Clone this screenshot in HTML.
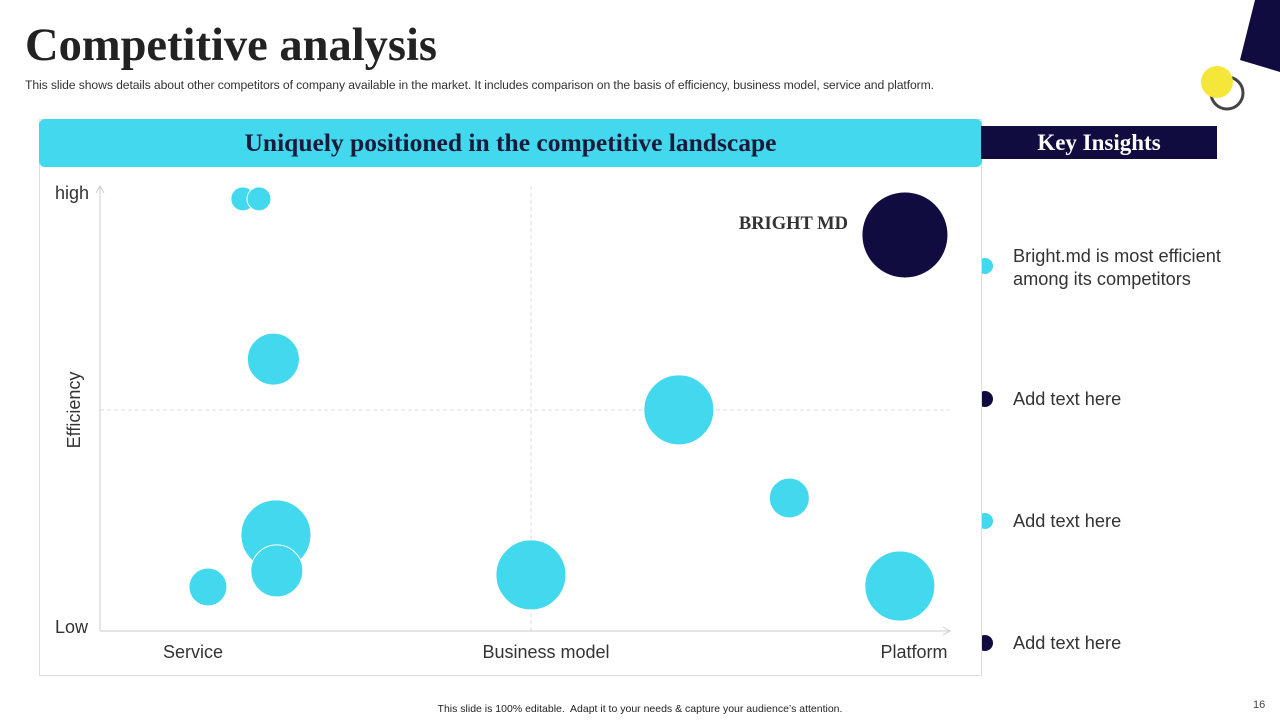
<!DOCTYPE html>
<html><head><meta charset="utf-8"><style>
body{margin:0;width:1280px;height:720px;position:relative;background:#fff;font-family:"Liberation Sans",sans-serif;overflow:hidden}
.abs{position:absolute}
</style></head><body>
<div class="abs" style="left:25px;top:20px;font-family:'Liberation Serif',serif;font-weight:bold;font-size:46.5px;line-height:52px;color:#222">Competitive analysis</div>
<div class="abs" style="left:25px;top:78px;font-size:12.2px;letter-spacing:-0.1px;color:#333;white-space:nowrap">This slide shows details about other competitors of company available in the market. It includes comparison on the basis of efficiency, business model, service and platform.</div>
<svg class="abs" style="left:0;top:0" width="1280" height="720">
<polygon points="1255,0 1280,0 1280,72 1240,60" fill="#110c3f"/>
<circle cx="1227" cy="93" r="16" fill="none" stroke="#444" stroke-width="3"/>
<circle cx="1217" cy="82" r="16" fill="#f5e63a"/>
<circle cx="985" cy="266" r="8" fill="#42d8ee"/>
<circle cx="985" cy="399" r="8" fill="#110c3f"/>
<circle cx="985" cy="521" r="8" fill="#42d8ee"/>
<circle cx="985" cy="643" r="8" fill="#110c3f"/>
</svg>
<div class="abs" style="left:39px;top:119px;width:941px;height:555px;border:1px solid #ddd;background:#fff"></div>
<div class="abs" style="left:39px;top:119px;width:943px;height:48px;background:#42d8ee;border-radius:6px;text-align:center;line-height:48px;font-family:'Liberation Serif',serif;font-weight:bold;font-size:25.5px;color:#1a1a3a">Uniquely positioned in the competitive landscape</div>
<div class="abs" style="left:981px;top:126px;width:236px;height:33px;background:#110c3f;color:#fff;text-align:center;line-height:33px;font-family:'Liberation Serif',serif;font-weight:bold;font-size:23px">Key Insights</div>
<div class="abs" style="left:1013px;top:245px;font-size:18.2px;color:#333;line-height:23px">Bright.md is most efficient<br>among its competitors</div>
<div class="abs" style="left:1013px;top:389px;font-size:18.2px;color:#333">Add text here</div>
<div class="abs" style="left:1013px;top:511px;font-size:18.2px;color:#333">Add text here</div>
<div class="abs" style="left:1013px;top:633px;font-size:18.2px;color:#333">Add text here</div>
<svg class="abs" id="chart" style="left:0;top:0" width="1280" height="720"></svg>
<div class="abs" style="left:0;width:1280px;top:703px;text-align:center;font-size:10.5px;color:#222">This slide is 100% editable.&nbsp; Adapt it to your needs &amp; capture your audience’s attention.</div>
<div class="abs" style="left:1253px;top:699px;font-size:11px;color:#444">16</div>
<script>
const xVals=[16.8,18.7,20.4,20.7,20.8,12.7,50.7,68.1,81.1,94.1,94.7];
const yVals=[97.1,97.1,61.1,21.6,13.5,9.9,12.6,49.7,29.9,10.1,89];
const sizes=[12,12,26,35,26,19,35,35,20,35,43];
const colors=["c","c","c","c","c","c","c","c","c","c","d"];
const xCats=["Service","Business model","Platform"];
const yLabels=["Low","high"];
const X=v=>100+v*8.5, Y=v=>631-v*4.45;
const s=document.getElementById('chart'),NS="http://www.w3.org/2000/svg";
function el(t,a){const e=document.createElementNS(NS,t);for(const k in a)e.setAttribute(k,a[k]);s.appendChild(e);return e;}
let e;
e=el('line',{x1:531,y1:186,x2:531,y2:631,stroke:'#ddd','stroke-dasharray':'4,3'});


e=el('line',{x1:100,y1:410,x2:950,y2:410,stroke:'#ddd','stroke-dasharray':'4,3'});


e=el('path',{d:'M100,631 V186 M96,193 L100,186 L104,193 M100,631 H950 M943,627 L950,631 L943,635',stroke:'#ccc',fill:'none'});


const xPos=[193,546,914];
xCats.forEach((c,i)=>{e=el('text',{x:xPos[i],y:658,'text-anchor':'middle','font-size':18,fill:'#333'});e.textContent=c;

});
e=el('text',{x:55,y:633,'font-size':18,fill:'#333'});e.textContent=yLabels[0];


e=el('text',{x:55,y:199,'font-size':18,fill:'#333'});e.textContent=yLabels[1];


e=el('text',{x:80,y:410,'font-size':18,fill:'#333','text-anchor':'middle',transform:'rotate(-90 80 410)'});e.textContent='Efficiency';


xVals.forEach((v,i)=>{e=el('circle',{cx:X(v),cy:Y(yVals[i]),r:sizes[i],fill:colors[i]=='d'?'#110c3f':'#42d8ee',stroke:'#fff','stroke-width':1});

});
e=el('text',{x:848,y:229,'text-anchor':'end','font-size':18.5,'font-weight':'bold','font-family':'Liberation Serif,serif',fill:'#333'});e.textContent='BRIGHT MD';


</script>
</body></html>
